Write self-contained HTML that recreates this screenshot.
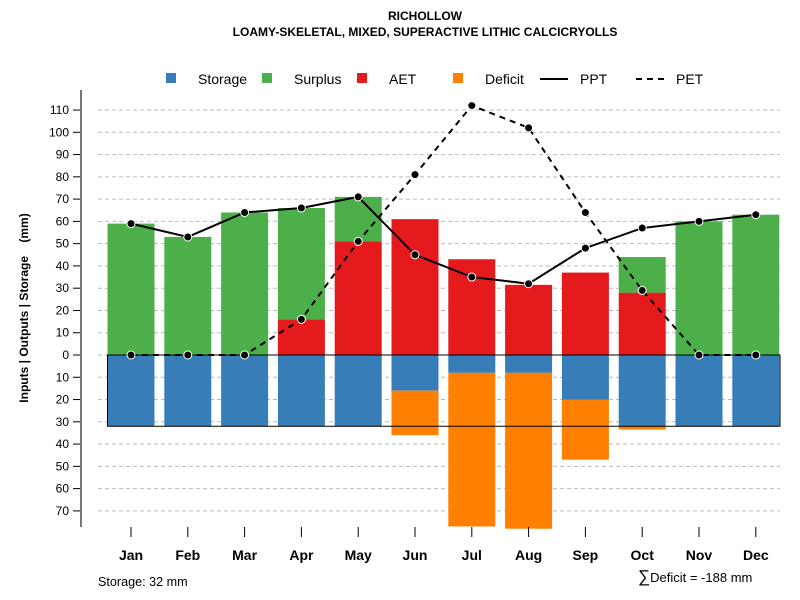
<!DOCTYPE html>
<html><head><meta charset="utf-8"><style>
body{margin:0;background:#fff}
svg{display:block;font-family:"Liberation Sans",sans-serif}
</style></head><body>
<svg id="chart" width="800" height="600">
<text x="425" y="20" text-anchor="middle" font-size="12" font-weight="bold">RICHOLLOW</text>
<text x="425" y="36" text-anchor="middle" font-size="12" font-weight="bold">LOAMY-SKELETAL, MIXED, SUPERACTIVE LITHIC CALCICRYOLLS</text>
<g font-size="14">
<rect x="166" y="73" width="10" height="10" fill="#377eb8"/>
<text x="198" y="84">Storage</text>
<rect x="262" y="73" width="10" height="10" fill="#4daf4a"/>
<text x="294" y="84">Surplus</text>
<rect x="357" y="73" width="10" height="10" fill="#e41a1c"/>
<text x="389" y="84">AET</text>
<rect x="453" y="73" width="10" height="10" fill="#ff7f00"/>
<text x="485" y="84">Deficit</text>
<line x1="540" y1="79" x2="568" y2="79" stroke="#000" stroke-width="2"/>
<text x="580" y="84">PPT</text>
<line x1="636" y1="79" x2="664" y2="79" stroke="#000" stroke-width="2" stroke-dasharray="6,5"/>
<text x="676" y="84">PET</text>
</g>
<text transform="translate(28,308) rotate(-90)" text-anchor="middle" font-size="12" font-weight="bold">Inputs | Outputs | Storage &#160;&#160;&#160;(mm)</text>
<text x="98" y="586" font-size="12.6">Storage: 32 mm</text>
<text x="638" y="582" font-size="13"><tspan font-size="17">∑</tspan>Deficit = -188 mm</text>
<g id="grid"></g><g id="bars"></g><g id="lines"></g><g id="axes"></g>
</svg>
<script>
const months=["Jan","Feb","Mar","Apr","May","Jun","Jul","Aug","Sep","Oct","Nov","Dec"];
const storage=[32,32,32,32,32,16,8,8,20,32,32,32];
const surplus=[59,53,64,50,20,0,0,0,0,16,60,63];
const aet=[0,0,0,16,51,61,43,31.5,37,28,0,0];
const deficit=[0,0,0,0,0,20,69,70,27,1.5,0,0];
const ppt=[59,53,64,66,71,45,35,32,48,57,60,63];
const pet=[0,0,0,16,51,81,112,102,64,29,0,0];
const yTicks=[110,100,90,80,70,60,50,40,30,20,10,0,-10,-20,-30,-40,-50,-60,-70];
const storageCap=32;
const NS="http://www.w3.org/2000/svg";
const y=v=>355-v*2.227;
const x=i=>131+i*56.8;
const bw=47;
function mk(tag,attrs,parent){const e=document.createElementNS(NS,tag);for(const k in attrs)e.setAttribute(k,attrs[k]);document.getElementById(parent).appendChild(e);return e;}
yTicks.forEach(t=>{
 const g=mk('line',{x1:98,x2:780,y1:y(t),y2:y(t),stroke:'#bbb','stroke-dasharray':'4,3'},'grid');
 
 
 const tk=mk('line',{x1:73,x2:81,y1:y(t),y2:y(t),stroke:'#000'},'axes');
 
 
 const lb=mk('text',{x:69,y:y(t)+4,'text-anchor':'end','font-size':12},'axes');
 lb.textContent=Math.abs(t);
 
 
});
const ax=mk('line',{x1:81,x2:81,y1:90,y2:527,stroke:'#777','stroke-width':2},'axes');


months.forEach((m,i)=>{
 const cx=x(i),l=cx-bw/2;
 const s=mk('rect',{x:l,y:y(0),width:bw,height:y(-storage[i])-y(0),fill:'#377eb8'},'bars');
 
 
 if(deficit[i]>0){const d=mk('rect',{x:l,y:y(-storage[i]),width:bw,height:y(-storage[i]-deficit[i])-y(-storage[i]),fill:'#ff7f00'},'bars');
 
 }
 if(aet[i]>0){const a=mk('rect',{x:l,y:y(aet[i]),width:bw,height:y(0)-y(aet[i]),fill:'#e41a1c'},'bars');
 
 }
 if(surplus[i]>0){const su=mk('rect',{x:l,y:y(aet[i]+surplus[i]),width:bw,height:y(aet[i])-y(aet[i]+surplus[i]),fill:'#4daf4a'},'bars');
 
 }
 const tk=mk('line',{x1:cx,x2:cx,y1:527,y2:537,stroke:'#000'},'axes');
 
 
 const lb=mk('text',{x:cx,y:560,'text-anchor':'middle','font-size':14,'font-weight':'bold'},'axes');
 lb.textContent=m;
 
 
});
const box=mk('rect',{x:x(0)-bw/2,y:y(0),width:780-(x(0)-bw/2),height:y(-storageCap)-y(0),fill:'none',stroke:'#000','stroke-width':1},'bars');


function series(vals,name,dash){
 const p=mk('polyline',{points:vals.map((v,i)=>x(i)+','+y(v)).join(' '),fill:'none',stroke:'#000','stroke-width':2,'stroke-dasharray':dash},'lines');
 
 
 vals.forEach((v,i)=>{const c=mk('circle',{cx:x(i),cy:y(v),r:4,fill:'#000',stroke:'#fff','stroke-width':1},'lines');
 
 });
}
series(pet,'pet','6,5');
series(ppt,'ppt','none');
</script>
</body></html>
